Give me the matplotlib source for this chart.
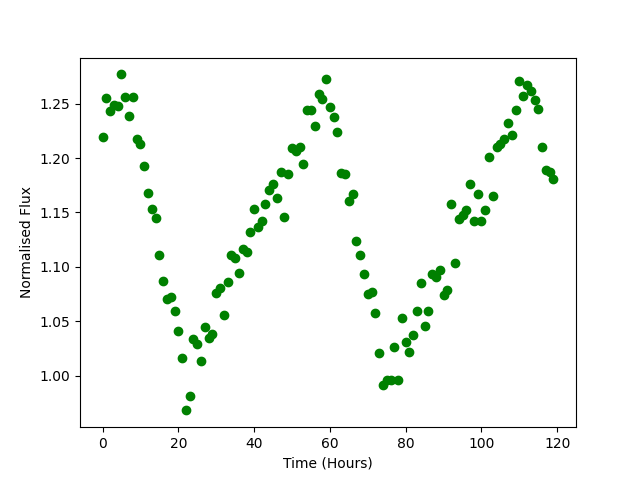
import matplotlib
matplotlib.use("Agg")
import matplotlib.pyplot as plt
import numpy as np

# time in hours, one reading per hour
hours = np.arange(0, 120)

# normalised flux
flux = [
    1.219, 1.255, 1.243, 1.249, 1.248, 1.277, 1.256, 1.239, 1.256, 1.218,
    1.213, 1.193, 1.168, 1.153, 1.145, 1.111, 1.087, 1.070, 1.072, 1.059,
    1.041, 1.016, 0.968, 0.981, 1.034, 1.029, 1.013, 1.045, 1.035, 1.038,
    1.076, 1.081, 1.056, 1.086, 1.111, 1.108, 1.094, 1.116, 1.114, 1.132,
    1.153, 1.137, 1.142, 1.158, 1.171, 1.176, 1.163, 1.187, 1.146, 1.185,
    1.209, 1.207, 1.210, 1.195, 1.244, 1.244, 1.230, 1.259, 1.254, 1.273,
    1.247, 1.238, 1.224, 1.186, 1.185, 1.161, 1.167, 1.124, 1.111, 1.093,
    1.075, 1.077, 1.058, 1.021, 0.991, 0.996, 0.996, 1.026, 0.996, 1.053,
    1.031, 1.022, 1.037, 1.059, 1.085, 1.046, 1.059, 1.093, 1.091, 1.097,
    1.074, 1.079, 1.158, 1.104, 1.144, 1.148, 1.152, 1.176, 1.142, 1.167,
    1.142, 1.152, 1.201, 1.165, 1.210, 1.213, 1.218, 1.232, 1.221, 1.244,
    1.271, 1.257, 1.267, 1.262, 1.253, 1.245, 1.210, 1.189, 1.187, 1.181,
]

fig, ax = plt.subplots(figsize=(6.4, 4.8), dpi=100)
ax.plot(hours, flux, 'go')
ax.set_xlabel('Time (Hours)')
ax.set_ylabel('Normalised Flux')

plt.savefig('out.png')
